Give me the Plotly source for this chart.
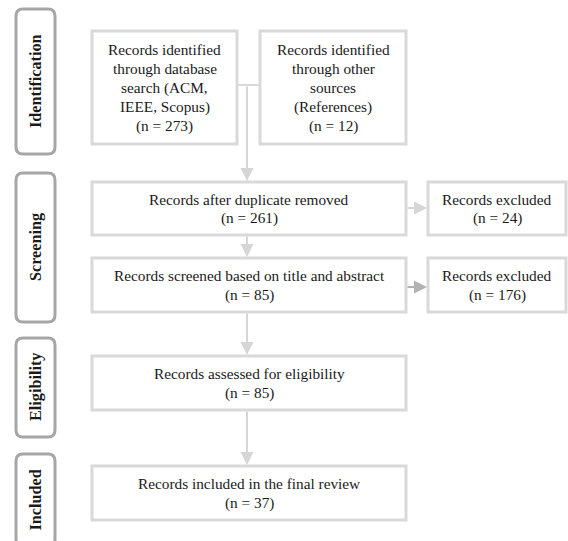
import plotly.graph_objects as go

# ---- data ----
phases = ["Identification", "Screening", "Eligibility", "Included"]
node_labels = [
    ["Records identified", "through database", "search (ACM,", "IEEE, Scopus)"],
    ["Records identified", "through other", "sources", "(References)"],
    ["Records after duplicate removed"],
    ["Records screened based on title and abstract"],
    ["Records assessed for eligibility"],
    ["Records included in the final review"],
    ["Records excluded"],
    ["Records excluded"],
]
node_counts = [273, 12, 261, 85, 85, 37, 24, 176]

# ---- layout (page pixel coordinates) ----
W, H = 568, 541
phase_boxes = [(16, 9, 55, 154), (16, 173, 55, 322), (16, 338, 55, 437), (16, 454, 55, 546)]
node_boxes = [
    (92, 31, 237, 144),
    (260, 31, 406, 144),
    (92, 182, 406, 235),
    (92, 258, 406, 312),
    (92, 356, 406, 410),
    (92, 466, 406, 520),
    (428, 182, 566, 235),
    (428, 258, 566, 312),
]
LINE_H = 19

BOX_COL = "#d9d9d9"
PHASE_COL = "#a6a6a6"
FONT = "Liberation Serif"

fig = go.Figure()
shapes = []
annotations = []

def rounded(x0, y0, x1, y1, r):
    return (f"M {x0+r},{y0} L {x1-r},{y0} Q {x1},{y0} {x1},{y0+r} "
            f"L {x1},{y1-r} Q {x1},{y1} {x1-r},{y1} L {x0+r},{y1} "
            f"Q {x0},{y1} {x0},{y1-r} L {x0},{y0+r} Q {x0},{y0} {x0+r},{y0} Z")

for (x0, y0, x1, y1), name in zip(phase_boxes, phases):
    shapes.append(dict(type="path", path=rounded(x0, y0, x1, y1, 7),
                       line=dict(color=PHASE_COL, width=3), xref="x", yref="y"))
    annotations.append(dict(x=(x0 + x1) / 2, y=(y0 + y1) / 2, xref="x", yref="y",
                            text=f"<b>{name}</b>", textangle=-90, showarrow=False,
                            font=dict(family=FONT, size=16.2, color="#1a1a1a")))

for (x0, y0, x1, y1), lab, n in zip(node_boxes, node_labels, node_counts):
    shapes.append(dict(type="rect", x0=x0, y0=y0, x1=x1, y1=y1,
                       line=dict(color=BOX_COL, width=3), xref="x", yref="y"))
    lines = lab + [f"(n = {n})"]
    cy = (y0 + y1) / 2
    for i, t in enumerate(lines):
        ly = cy + (i - (len(lines) - 1) / 2) * LINE_H
        annotations.append(dict(x=(x0 + x1) / 2, y=ly, xref="x", yref="y",
                                text=t, showarrow=False,
                                font=dict(family=FONT, size=15.3, color="#1a1a1a")))

# connector between the two identification boxes
shapes.append(dict(type="line", x0=237, y0=85, x1=260, y1=85,
                   line=dict(color=BOX_COL, width=2), xref="x", yref="y"))

def arrow(x0, y0, x1, y1, col):
    annotations.append(dict(x=x1, y=y1, ax=x0, ay=y0, xref="x", yref="y",
                            axref="x", ayref="y", text="", showarrow=True,
                            arrowhead=2, arrowsize=1.3, arrowwidth=2,
                            arrowcolor=col, standoff=1))

arrow(247, 85, 247, 182, "#d6d6d6")
arrow(247, 235, 247, 258, "#d6d6d6")
arrow(247, 312, 247, 356, "#d6d6d6")
arrow(247, 410, 247, 466, "#d6d6d6")
arrow(406, 208, 428, 208, "#d6d6d6")
arrow(406, 287, 428, 287, "#b3b3b3")

fig.update_layout(
    width=W, height=H, margin=dict(l=0, r=0, t=0, b=0),
    paper_bgcolor="white", plot_bgcolor="white",
    xaxis=dict(range=[0, W], visible=False, fixedrange=True),
    yaxis=dict(range=[H, 0], visible=False, fixedrange=True),
    shapes=shapes, annotations=annotations, showlegend=False,
)
fig.write_html("out.html", config={"displayModeBar": False},
               post_script="document.body.style.margin='0';document.body.style.overflow='hidden';")
